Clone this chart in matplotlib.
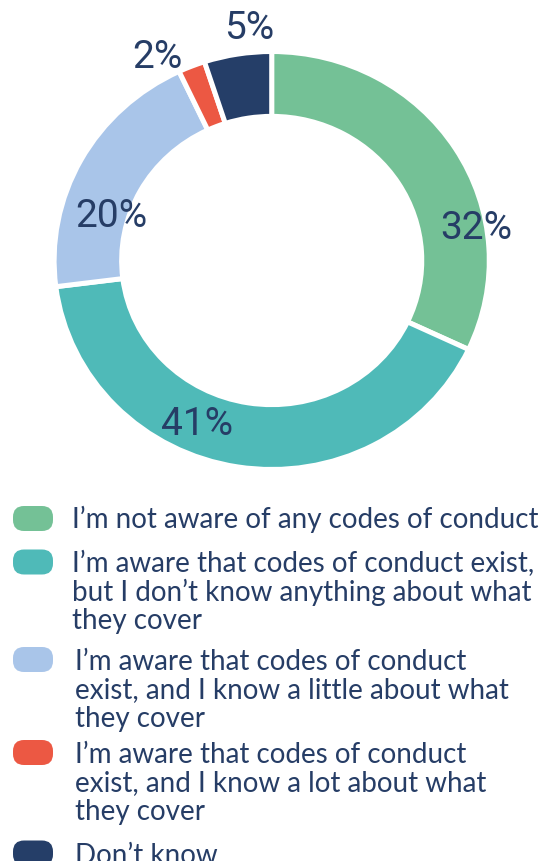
import matplotlib.pyplot as plt
from matplotlib.patches import FancyBboxPatch

# survey answers, clockwise from 12 o'clock
answers = [
    "I’m not aware of any codes of conduct",
    "I’m aware that codes of conduct exist,\nbut I don’t know anything about what\nthey cover",
    "I’m aware that codes of conduct\nexist, and I know a little about what\nthey cover",
    "I’m aware that codes of conduct\nexist, and I know a lot about what\nthey cover",
    "Don’t know",
]
shares = [32, 41, 20, 2, 5]
colors = ['#74c196', '#4fbab8', '#a9c5e9', '#ec5843', '#253e68']
navy = '#263d66'

W, H = 548, 861
fig = plt.figure(figsize=(W / 100, H / 100), dpi=100)

# donut (slightly wider than tall, like the reference)
cx, cy, rx, ry = 271.7, 260.5, 215, 206.5
ax = fig.add_axes([(cx - rx) / W, 1 - (cy + ry) / H, 2 * rx / W, 2 * ry / H])
ax.pie(shares, colors=colors, startangle=90, counterclock=False, radius=1.012,
       wedgeprops=dict(width=0.314, edgecolor='white', linewidth=3.6))
ax.set_aspect('auto')
ax.set_xlim(-1, 1)
ax.set_ylim(-1, 1)
ax.axis('off')

# hand placed percentage labels
label_pos = [(0.95, 0.155), (-0.348, -0.794), (-0.747, 0.213), (-0.531, 0.983), (-0.106, 1.123)]
for v, (x, y) in zip(shares, label_pos):
    ax.text(x, y, '%d%%' % v, ha='center', va='center', fontsize=28,
            family='Roboto', color=navy, clip_on=False)

# legend drawn in pixel space
lg = fig.add_axes([0, 0, 1, 1], zorder=-1)
lg.set_xlim(0, W)
lg.set_ylim(H, 0)
lg.axis('off')

pill_y = [518.5, 562, 659.5, 752.5, 853]
first_base = [528, 572, 670, 763, 864]
text_x = [72, 72, 75, 75, 75]
line_gap = 28.5
for i, txt in enumerate(answers):
    lg.add_patch(FancyBboxPatch((13 + 11, pill_y[i] - 12.5 + 11), 40 - 22, 25 - 22,
                                boxstyle='round,pad=11', fc=colors[i], ec='none'))
    for j, line in enumerate(txt.split('\n')):
        lg.text(text_x[i], first_base[i] + j * line_gap, line, ha='left', va='baseline',
                fontsize=20, family='Lato', color=navy)

fig.savefig('out.png', dpi=100)
